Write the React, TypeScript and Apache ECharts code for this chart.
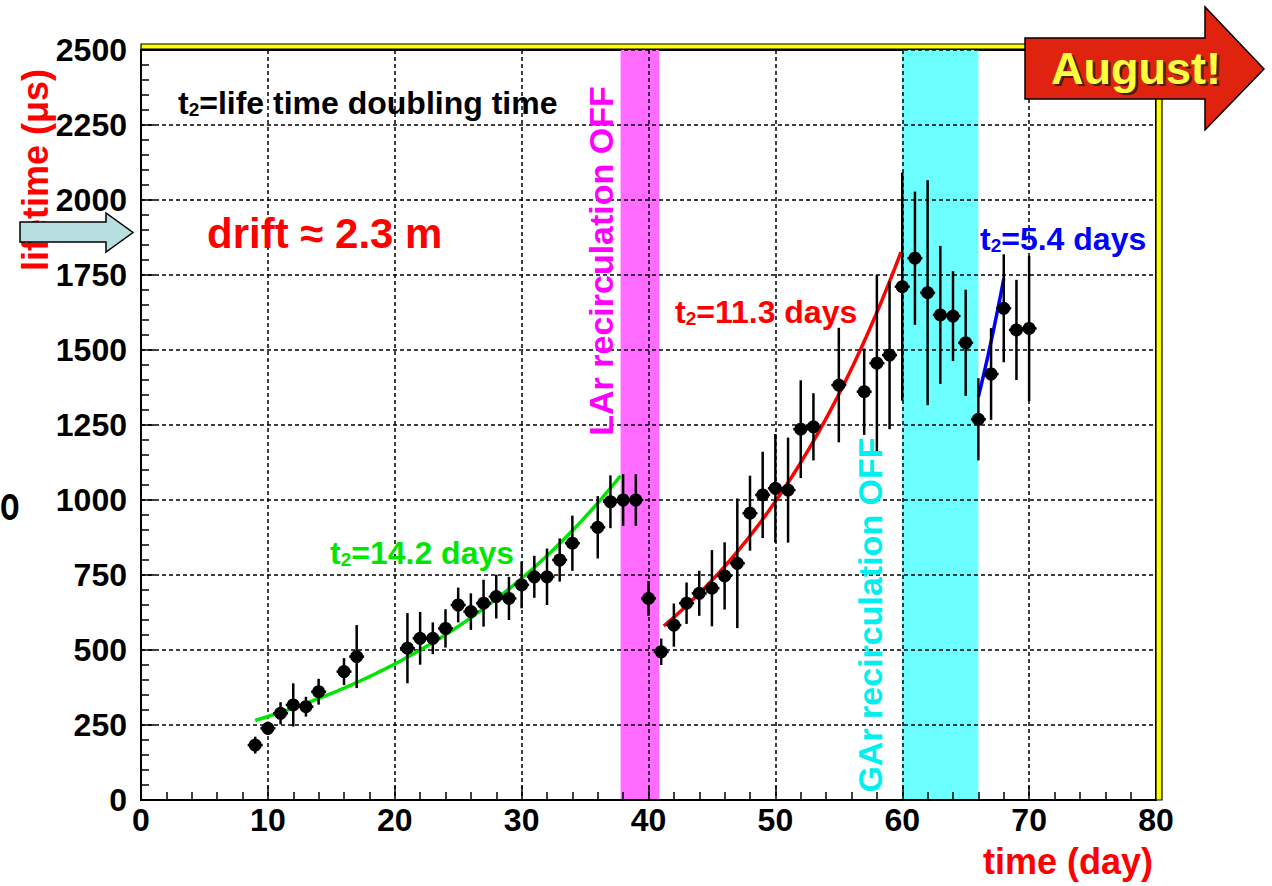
import React, { useEffect, useRef } from "react";
import * as echarts from "echarts";

// Electron lifetime measurements (day, lifetime in µs, error in µs)
const days = [
  9, 10, 11, 12, 13, 14, 16, 17, 21, 22, 23, 24, 25, 26, 27, 28, 29, 30, 31, 32, 33, 34, 36, 37, 38, 39,
  40, 41, 42, 43, 44, 45, 46, 47, 48, 49, 50, 51, 52, 53, 55, 57, 58, 59,
  60, 61, 62, 63, 64, 65, 66, 67, 68, 69, 70,
];
const lifetimes = [
  183, 239, 289, 317, 311, 361, 428, 478, 506, 539, 539, 572, 650, 628, 656, 678, 672, 717, 744, 744, 800, 856, 909, 994, 1000, 1000,
  672, 494, 583, 656, 689, 706, 747, 789, 956, 1017, 1039, 1033, 1236, 1244, 1383, 1361, 1456, 1483,
  1711, 1806, 1691, 1617, 1613, 1524, 1269, 1420, 1639, 1567, 1572,
];
const errors = [
  28, 22, 37, 72, 33, 43, 45, 105, 117, 88, 53, 64, 58, 61, 78, 73, 72, 78, 70, 94, 72, 92, 104, 88, 86, 86,
  58, 44, 72, 69, 75, 127, 112, 216, 125, 144, 181, 175, 163, 112, 191, 144, 294, 247,
  380, 222, 375, 230, 150, 177, 137, 153, 180, 167, 242,
];

// Exponential fits: lifetime doubles every t2 days
const fitStartDays = [9, 41.2, 66.0];
const fitEndDays = [37.8, 59.9, 68.0];
const fitStartValues = [265, 580, 1344];
const doublingTimes = [14.2, 11.3, 5.4];
const fitColors = ["#00e600", "#ff0000", "#0000ff"];

// Periods with recirculation switched off
const bandStarts = [37.8, 60];
const bandEnds = [40.85, 66];
const bandColors = ["#ff6cff", "#6cffff"];

const xTicks = { min: 0, max: 80, interval: 10 };
const yTicks = { min: 0, max: 2500, interval: 250 };

const ROOT_FONT = "Liberation Sans, Arial, sans-serif";

function fitCurve(i: number): number[][] {
  const pts: number[][] = [];
  const a = fitStartDays[i];
  const b = fitEndDays[i];
  const n = Math.max(8, Math.round((b - a) * 4));
  for (let k = 0; k <= n; k++) {
    const t = a + ((b - a) * k) / n;
    pts.push([t, fitStartValues[i] * Math.pow(2, (t - a) / doublingTimes[i])]);
  }
  return pts;
}

function t2Label(value: string, color: string, x: number, y: number) {
  return {
    type: "text",
    x,
    y,
    z: 50,
    style: {
      text: `{a|t}{s|2}{a|=${value}}`,
      verticalAlign: "middle",
      align: "left",
      rich: {
        a: { fontSize: 32, fontWeight: "bold", fontFamily: ROOT_FONT, fill: color, color, lineHeight: 38, verticalAlign: "bottom" },
        s: { fontSize: 19, fontWeight: "bold", fontFamily: ROOT_FONT, fill: color, color, lineHeight: 19, verticalAlign: "bottom" },
      },
    },
  };
}

export default function App() {
  const ref = useRef<HTMLDivElement>(null);

  useEffect(() => {
    if (!ref.current) return;
    const chart = echarts.init(ref.current, undefined, { renderer: "svg" });

    const points = days.map((d, i) => [d, lifetimes[i], errors[i]]);
    const bands = bandStarts.map((s, i) => [s, bandEnds[i]]);

    const axisLabel = {
      color: "#000",
      fontFamily: ROOT_FONT,
      fontWeight: "bold",
      fontSize: 32,
      formatter: (v: number) => String(v),
    };
    const splitLine = { show: true, lineStyle: { color: "#000", width: 1.5, type: [4, 3] } };

    const option: any = {
      animation: false,
      backgroundColor: "#fff",
      grid: {
        left: 141,
        top: 50,
        width: 1015,
        height: 750,
        show: true,
        borderColor: "#000",
        borderWidth: 2,
        backgroundColor: "transparent",
      },
      xAxis: {
        type: "value",
        ...xTicks,
        z: 3,
        axisLine: { show: true, lineStyle: { color: "#000", width: 2 } },
        axisTick: { show: true, inside: true, length: 14, lineStyle: { color: "#000", width: 1.5 } },
        minorTick: { show: true, splitNumber: 5, length: 8, lineStyle: { color: "#000", width: 1.5 } },
        axisLabel: { ...axisLabel, margin: 4 },
        splitLine,
      },
      yAxis: {
        type: "value",
        ...yTicks,
        z: 3,
        axisLine: { show: true, lineStyle: { color: "#000", width: 2 } },
        axisTick: { show: true, inside: true, length: 14, lineStyle: { color: "#000", width: 1.5 } },
        minorTick: { show: true, splitNumber: 5, length: 8, lineStyle: { color: "#000", width: 1.5 } },
        axisLabel: { ...axisLabel, margin: 14 },
        splitLine,
      },
      series: [
        {
          type: "custom",
          name: "recirculation off",
          z: 1,
          silent: true,
          data: bands,
          encode: { x: [0, 1] },
          renderItem: (params: any, api: any) => {
            const p0 = api.coord([api.value(0), yTicks.max]);
            const p1 = api.coord([api.value(1), yTicks.min]);
            return {
              type: "rect",
              shape: { x: p0[0], y: p0[1], width: p1[0] - p0[0], height: p1[1] - p0[1] },
              style: { fill: bandColors[params.dataIndex] },
            };
          },
        },
        ...fitColors.map((c, i) => ({
          type: "line",
          name: `fit ${doublingTimes[i]}`,
          data: fitCurve(i),
          showSymbol: false,
          smooth: false,
          z: 4,
          lineStyle: { color: c, width: 3.5 },
        })),
        {
          type: "custom",
          name: "lifetime",
          z: 5,
          data: points,
          encode: { x: 0, y: 1 },
          renderItem: (params: any, api: any) => {
            const x = api.value(0);
            const y = api.value(1);
            const e = api.value(2);
            const top = api.coord([x, y + e]);
            const bot = api.coord([x, y - e]);
            const c = api.coord([x, y]);
            return {
              type: "group",
              children: [
                {
                  type: "line",
                  shape: { x1: top[0], y1: top[1], x2: bot[0], y2: bot[1] },
                  style: { stroke: "#000", lineWidth: 2.5 },
                },
                {
                  type: "line",
                  shape: { x1: c[0] - 7.5, y1: c[1], x2: c[0] + 7.5, y2: c[1] },
                  style: { stroke: "#000", lineWidth: 2.5 },
                },
                { type: "circle", shape: { cx: c[0], cy: c[1], r: 6.5 }, style: { fill: "#000" } },
              ],
            };
          },
        },
      ],
      graphic: [
        // frame trim along the top and right edges
        {
          type: "rect",
          z: 20,
          shape: { x: 141, y: 44, width: 1021, height: 5 },
          style: { fill: "#ffff00", stroke: "#000", lineWidth: 1.2 },
        },
        {
          type: "rect",
          z: 20,
          shape: { x: 1156, y: 44, width: 6, height: 756 },
          style: { fill: "#ffff00", stroke: "#000", lineWidth: 1.2 },
        },
        // axis titles
        {
          type: "text",
          x: 35,
          y: 170,
          rotation: Math.PI / 2,
          z: 30,
          style: {
            text: "lifetime (\u03bcs)",
            fill: "#ff0000",
            fontFamily: ROOT_FONT,
            fontWeight: "bold",
            fontSize: 36,
            align: "center",
            verticalAlign: "middle",
          },
        },
        {
          type: "text",
          x: 1153,
          y: 861,
          z: 30,
          style: {
            text: "time (day)",
            fill: "#ff0000",
            fontFamily: ROOT_FONT,
            fontWeight: "bold",
            fontSize: 36,
            align: "right",
            verticalAlign: "middle",
          },
        },
        // band captions
        {
          type: "text",
          x: 601,
          y: 261,
          rotation: Math.PI / 2,
          z: 30,
          style: {
            text: "LAr recirculation OFF",
            fill: "#ff00ff",
            fontFamily: ROOT_FONT,
            fontWeight: "bold",
            fontSize: 34,
            align: "center",
            verticalAlign: "middle",
          },
        },
        {
          type: "text",
          x: 870,
          y: 615,
          rotation: Math.PI / 2,
          z: 30,
          style: {
            text: "GAr recirculation OFF",
            fill: "#00f0f0",
            fontFamily: ROOT_FONT,
            fontWeight: "bold",
            fontSize: 34,
            align: "center",
            verticalAlign: "middle",
          },
        },
        t2Label("life time doubling time", "#000000", 178, 100),
        t2Label("14.2 days", fitColors[0], 330, 550),
        t2Label("11.3 days", fitColors[1], 675, 309),
        t2Label("5.4 days", fitColors[2], 980, 236),
        {
          type: "text",
          x: 207,
          y: 233,
          z: 30,
          style: {
            text: "drift \u2248 2.3 m",
            fill: "#ff0000",
            fontFamily: ROOT_FONT,
            fontWeight: "bold",
            fontSize: 42,
            align: "left",
            verticalAlign: "middle",
          },
        },
        // drift arrow on the left
        {
          type: "polygon",
          z: 40,
          shape: {
            points: [
              [20, 222],
              [106, 222],
              [106, 213],
              [133, 232.5],
              [106, 252],
              [106, 242],
              [20, 242],
            ],
          },
          style: { fill: "#b8dfe0", stroke: "#000", lineWidth: 1.5 },
        },
        {
          type: "text",
          x: 0,
          y: 504,
          z: 30,
          scaleX: 0.8,
          scaleY: 1.2,
          style: {
            text: "o",
            fill: "#000",
            fontFamily: "Liberation Sans, Arial, sans-serif",
            fontWeight: "bold",
            fontSize: 40,
            align: "left",
            verticalAlign: "middle",
          },
        },
        // August arrow
        {
          type: "polygon",
          z: 40,
          shape: {
            points: [
              [1025, 38],
              [1205, 38],
              [1205, 7],
              [1264, 69],
              [1205, 130],
              [1205, 99],
              [1025, 99],
            ],
          },
          style: { fill: "#e0230f", stroke: "#000", lineWidth: 1.5 },
        },
        {
          type: "group",
          z: 41,
          children: [
            {
              type: "text",
              x: 1138.5,
              y: 70.5,
              z: 41,
              silent: true,
              style: {
                text: "August!",
                fill: "#4a2000",
                fontFamily: "Liberation Sans, Arial, sans-serif",
                fontWeight: "bold",
                fontSize: 45,
                align: "center",
                verticalAlign: "middle",
              },
            },
            {
              type: "text",
              x: 1136,
              y: 68,
              z: 42,
              style: {
                text: "August!",
                fill: "#ffff40",
                fontFamily: "Liberation Sans, Arial, sans-serif",
                fontWeight: "bold",
                fontSize: 45,
                align: "center",
                verticalAlign: "middle",
              },
            },
          ],
        },
      ],
    };

    chart.setOption(option);
    return () => chart.dispose();
  }, []);

  return (
    <div
      ref={ref}
      style={{ position: "absolute", left: 0, top: 0, width: 1272, height: 886, background: "#fff" }}
    />
  );
}
